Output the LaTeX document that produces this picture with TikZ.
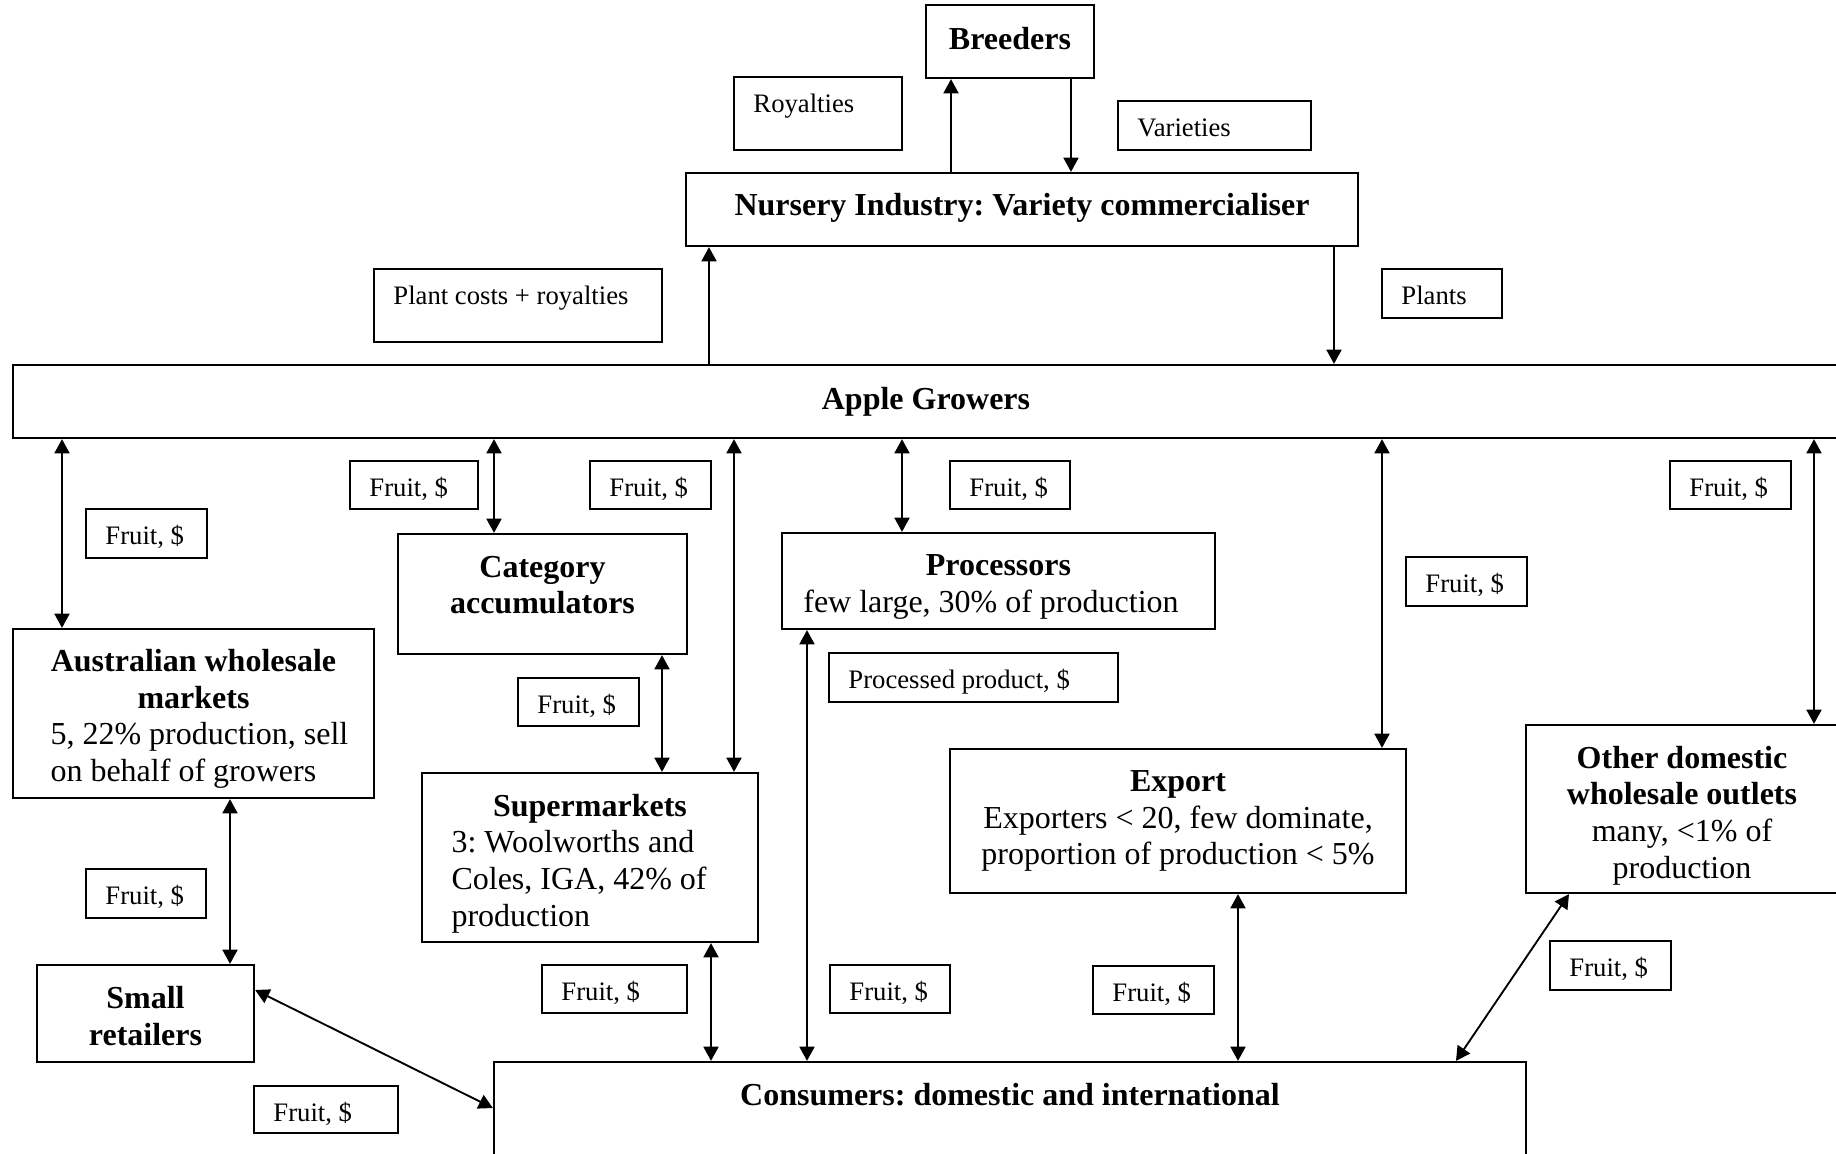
\documentclass[tikz,border=0pt]{standalone}
\usepackage{fontspec}
\setmainfont{Liberation Serif}
\usetikzlibrary{arrows.meta,fit}
\frenchspacing

\newcommand\flowlabel[6]{%
  \node[lbl,fit={(#2,#3) (#4,#5)}] (#1) {};
  \node[stxt] (#1t) at ([shift={(20,37)}]#1.north west) {#6};}

\begin{document}
\begin{tikzpicture}[x=0.375pt,y=-0.375pt,
  box/.style={draw,line width=0.85pt,inner sep=0pt},
  lbl/.style={draw,line width=0.8pt,inner sep=0pt},
  btxt/.style={font=\fontsize{12}{13.75}\selectfont\bfseries,inner sep=0pt,align=center,anchor=base},
  rtxt/.style={font=\fontsize{12}{13.75}\selectfont,inner sep=0pt},
  stxt/.style={font=\fontsize{10}{12}\selectfont,inner sep=0pt,anchor=base west},
  tip/.tip={Triangle[length=5.3pt,width=5.6pt]},
  arr/.style={line width=0.7pt,-tip},
  darr/.style={line width=0.7pt,tip-tip},
]
\useasboundingbox (0,0) rectangle (1836,1154);
\clip (0,0) rectangle (1836,1154);

% main boxes
\node[box,fit={(926,5) (1094,78)}] (bre) {};
\node[box,fit={(686,173) (1358,246)}] (nur) {};
\node[box,fit={(13,365) (1860,438)}] (gro) {};
\node[box,fit={(398,534) (687,654)}] (cat) {};
\node[box,fit={(782,533) (1215,629)}] (pro) {};
\node[box,fit={(13,629) (374,798)}] (aus) {};
\node[box,fit={(422,773) (758,942)}] (sup) {};
\node[box,fit={(950,749) (1406,893)}] (exp) {};
\node[box,fit={(1526,725) (1860,893)}] (oth) {};
\node[box,fit={(37,965) (254,1062)}] (sml) {};
\node[box,fit={(494,1062) (1526,1180)}] (con) {};

% main texts (multi-line nodes are anchored at the baseline of their last line)
\node[btxt] (breT) at (1010,50) {Breeders};
\node[btxt] (nurT) at (1022,216) {Nursery Industry: Variety commercialiser};
\node[btxt] (groT) at (926,410) {Apple Growers};
\node[btxt] (catT) at (542.5,614) {Category\\accumulators};
\node[btxt] (proT) at (998.5,576) {Processors};
\node[rtxt,anchor=base] (proT2) at (991,613) {few large, 30\% of production};
\node[btxt] (ausT) at (193.5,708) {Australian wholesale\\markets};
\node[rtxt,align=left,anchor=base west] (ausT2) at (50,781) {5, 22\% production, sell\\on behalf of growers};
\node[btxt] (supT) at (590,816) {Supermarkets};
\node[rtxt,align=left,anchor=base west] (supT2) at (451,926) {3: Woolworths and\\Coles, IGA, 42\% of\\production};
\node[rtxt,align=center,anchor=base] (expT) at (1178,865) {\textbf{Export}\\Exporters < 20, few dominate,\\proportion of production < 5\%};
\node[rtxt,align=center,anchor=base] (othT) at (1682,878) {\textbf{Other domestic}\\\textbf{wholesale outlets}\\many, <1\% of\\production};
\node[btxt] (smlT) at (145.5,1045) {Small\\retailers};
\node[btxt] (conT) at (1010,1105) {Consumers: domestic and international};

% flow labels
\flowlabel{lroy}{734}{77}{902}{150}{Royalties}
\flowlabel{lvar}{1118}{101}{1311}{150}{Varieties}
\flowlabel{lpc}{374}{269}{662}{342}{Plant costs + royalties}
\flowlabel{lpl}{1382}{269}{1502}{318}{Plants}
\flowlabel{lf1}{350}{461}{478}{509}{Fruit, \$}
\flowlabel{lf2}{590}{461}{711}{509}{Fruit, \$}
\flowlabel{lf3}{950}{461}{1070}{509}{Fruit, \$}
\flowlabel{lf4}{1670}{461}{1791}{509}{Fruit, \$}
\flowlabel{lf5}{86}{509}{207}{558}{Fruit, \$}
\flowlabel{lf6}{1406}{557}{1527}{606}{Fruit, \$}
\flowlabel{lpp}{829}{653}{1118}{702}{Processed product, \$}
\flowlabel{lf7}{518}{678}{639}{726}{Fruit, \$}
\flowlabel{lf8}{86}{869}{206}{918}{Fruit, \$}
\flowlabel{lf9}{542}{965}{687}{1013}{Fruit, \$}
\flowlabel{lf10}{830}{965}{950}{1013}{Fruit, \$}
\flowlabel{lf11}{1093}{966}{1214}{1014}{Fruit, \$}
\flowlabel{lf12}{1550}{941}{1671}{990}{Fruit, \$}
\flowlabel{lf13}{254}{1086}{398}{1133}{Fruit, \$}

% connectors
\draw[arr] (951,0 |- nur.north) -- (951,0 |- bre.south);
\draw[arr] (1071,0 |- bre.south) -- (1071,0 |- nur.north);
\draw[arr] (709,0 |- gro.north) -- (709,0 |- nur.south);
\draw[arr] (1334,0 |- nur.south) -- (1334,0 |- gro.north);
\draw[darr] (62,0 |- gro.south) -- (62,0 |- aus.north);
\draw[darr] (494,0 |- gro.south) -- (494,0 |- cat.north);
\draw[darr] (734,0 |- gro.south) -- (734,0 |- sup.north);
\draw[darr] (902,0 |- gro.south) -- (902,0 |- pro.north);
\draw[darr] (1382,0 |- gro.south) -- (1382,0 |- exp.north);
\draw[darr] (1814,0 |- gro.south) -- (1814,0 |- oth.north);
\draw[darr] (662,0 |- cat.south) -- (662,0 |- sup.north);
\draw[darr] (230,0 |- aus.south) -- (230,0 |- sml.north);
\draw[darr] (711,0 |- sup.south) -- (711,0 |- con.north);
\draw[darr] (807,0 |- pro.south) -- (807,0 |- con.north);
\draw[darr] (1238,0 |- exp.south) -- (1238,0 |- con.north);
\draw[darr] (1569,0 |- oth.south) -- (1456,0 |- con.north);
\draw[darr] (sml.east |- 0,990) -- (con.west |- 0,1108);
\end{tikzpicture}
\end{document}
